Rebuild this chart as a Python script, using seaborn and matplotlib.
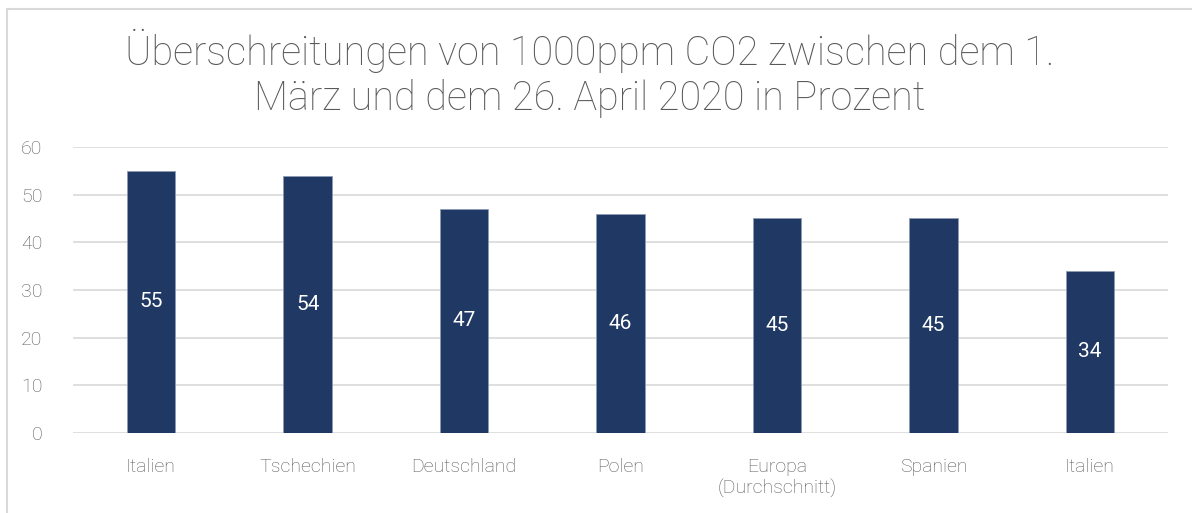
import matplotlib
matplotlib.use("Agg")
import matplotlib.pyplot as plt
from matplotlib.lines import Line2D
import seaborn as sns
import pandas as pd

# Daten aus dem Diagramm
laender = ["Italien", "Tschechien", "Deutschland", "Polen",
           "Europa\n(Durchschnitt)", "Spanien", "Italien"]
prozent = [55, 54, 47, 46, 45, 45, 34]
y_ticks = [0, 10, 20, 30, 40, 50, 60]

titel = "Überschreitungen von 1000ppm CO2 zwischen dem 1.\nMärz und dem 26. April 2020 in Prozent"

sns.set_theme(style="white")
plt.rcParams['font.family'] = ['Roboto', 'DejaVu Sans']

bar_farbe = "#203864"
text_farbe = "#595959"

df = pd.DataFrame({"land": laender, "wert": prozent, "pos": range(len(laender))})

fig = plt.figure(figsize=(11.92, 5.13), dpi=100)
ax = fig.add_axes([0.0612, 0.156, 0.9188, 0.5575])

sns.barplot(data=df, x="pos", y="wert", color=bar_farbe, width=0.31,
            saturation=1, ax=ax, edgecolor="#8d9ab5", linewidth=0.6)

ax.set_ylim(0, 60)
ax.set_xlim(-0.5, len(laender) - 0.5)
ax.set_yticks(y_ticks)
ax.yaxis.grid(True, color="#d9d9d9", linewidth=1.2)
ax.set_axisbelow(True)
for s in ax.spines.values():
    s.set_visible(False)
ax.set_xlabel("")
ax.set_ylabel("")
ax.set_xticks(range(len(laender)))
ax.set_xticklabels(laender, linespacing=1.2)
for lbl in ax.get_xticklabels() + ax.get_yticklabels():
    lbl.set_fontweight("light")
ax.tick_params(axis="both", length=0, labelsize=14, labelcolor=text_farbe)
ax.tick_params(axis="x", pad=18)
ax.tick_params(axis="y", pad=22)

# Werte in die Balken schreiben
for cont in ax.containers:
    ax.bar_label(cont, label_type="center", color="white", fontsize=15)

fig.text(0.495, 0.857, titel, ha="center", va="center", fontsize=28.5,
         color=text_farbe, fontweight="light", linespacing=1.17)

# Rahmen links und oben
fig.add_artist(Line2D([7 / 1192, 1], [1 - 9 / 513, 1 - 9 / 513],
                      transform=fig.transFigure, color="#d9d9d9", linewidth=1.5))
fig.add_artist(Line2D([7 / 1192, 7 / 1192], [0, 1 - 9 / 513],
                      transform=fig.transFigure, color="#d9d9d9", linewidth=1.5))

fig.savefig("out.png", dpi=100, facecolor="white")
